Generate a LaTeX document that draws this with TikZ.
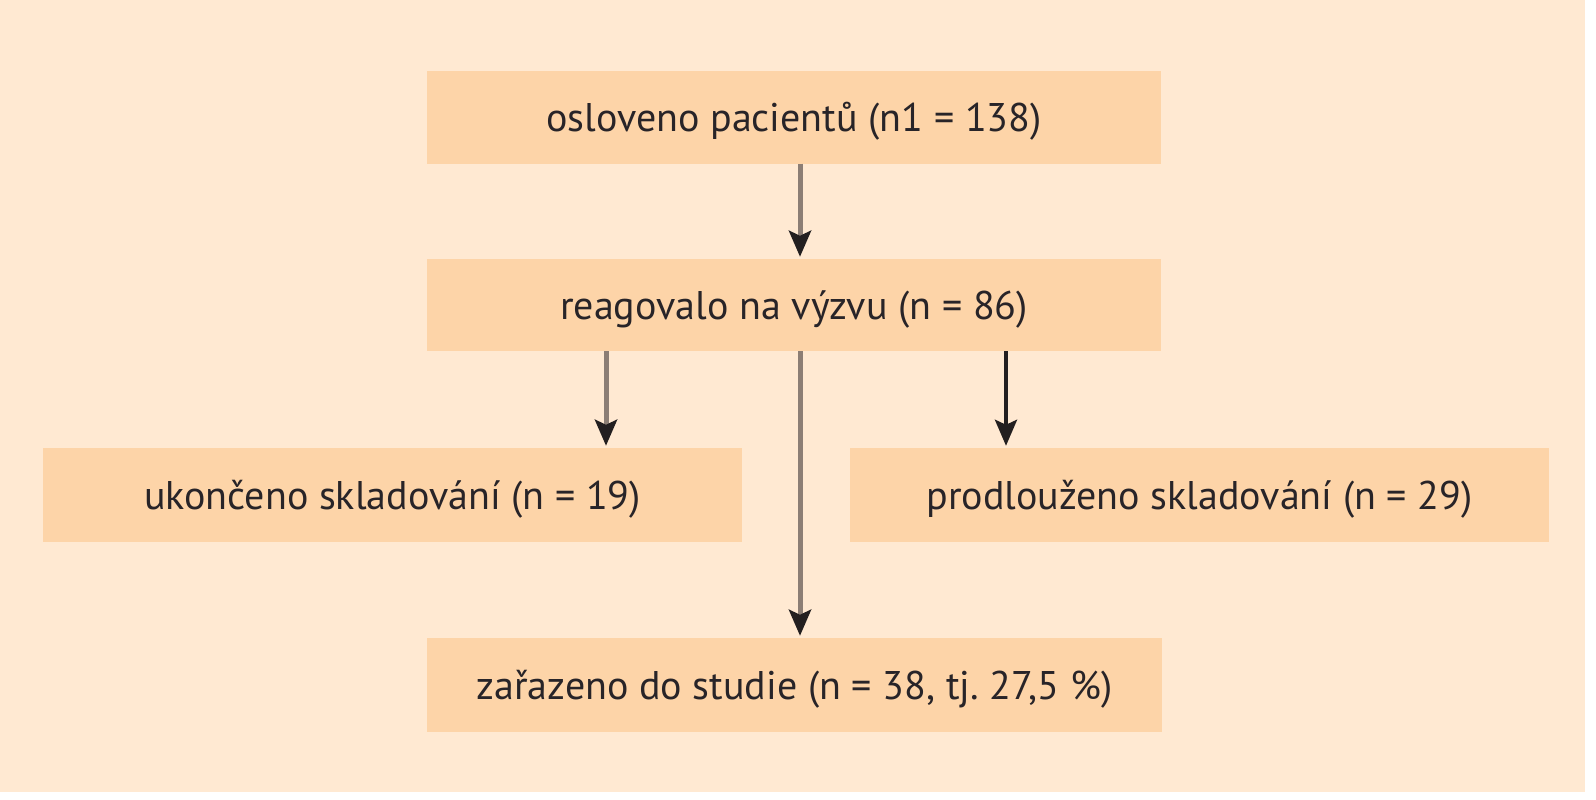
\documentclass[tikz,border=0pt]{standalone}
\usepackage{fontspec}
\setmainfont{PT Sans}
\usetikzlibrary{arrows.meta}
\definecolor{bgc}{RGB}{255,233,210}
\definecolor{boxc}{RGB}{253,212,168}
\definecolor{linec}{RGB}{140,126,117}
\definecolor{darkc}{RGB}{35,31,32}
\definecolor{txtc}{RGB}{40,36,40}
\tikzset{
  flowbox/.style={rectangle, fill=boxc, draw=none, inner sep=0pt, text=txtc,
    minimum height=92pt, text height=30pt, text depth=2pt,
    font=\fontsize{40}{46}\selectfont},
  arr/.style={draw=linec, line width=5pt,
    -{Stealth[length=26pt,width=22pt,inset=5pt,color=darkc]}, shorten >=2pt},
  arrdark/.style={arr, draw=darkc, line width=4pt}
}
\begin{document}
\frenchspacing
\begin{tikzpicture}[x=1pt,y=-1pt]
\useasboundingbox (0,0) rectangle (1596,800);
\fill[white] (0,0) rectangle (1596,800);
\fill[bgc] (0,0) rectangle (1585,792);
\node[flowbox, minimum width=734pt] (a) at (794,117.5) {osloveno pacientů (n1 = 138)};
\node[flowbox, minimum width=734pt] (b) at (794,305) {reagovalo na výzvu (n = 86)};
\node[flowbox, minimum width=699pt, minimum height=94pt] (l) at (392.5,495) {ukončeno skladování (n = 19)};
\node[flowbox, minimum width=699pt, minimum height=94pt] (r) at (1199.5,495) {prodlouženo skladování (n = 29)};
\node[flowbox, minimum width=735pt, minimum height=94pt] (e) at (794.5,685) {zařazeno do studie (n = 38, tj. 27,5 \%)};
\coordinate (cx) at (800,0);
\coordinate (lx) at (606,0);
\coordinate (rx) at (1006,0);
\draw[arr] (a.south -| cx) -- (b.north -| cx);
\draw[arr] (b.south -| lx) -- (l.north -| lx);
\draw[arrdark] (b.south -| rx) -- (r.north -| rx);
\draw[arr] (b.south -| cx) -- (e.north -| cx);
\end{tikzpicture}
\end{document}
